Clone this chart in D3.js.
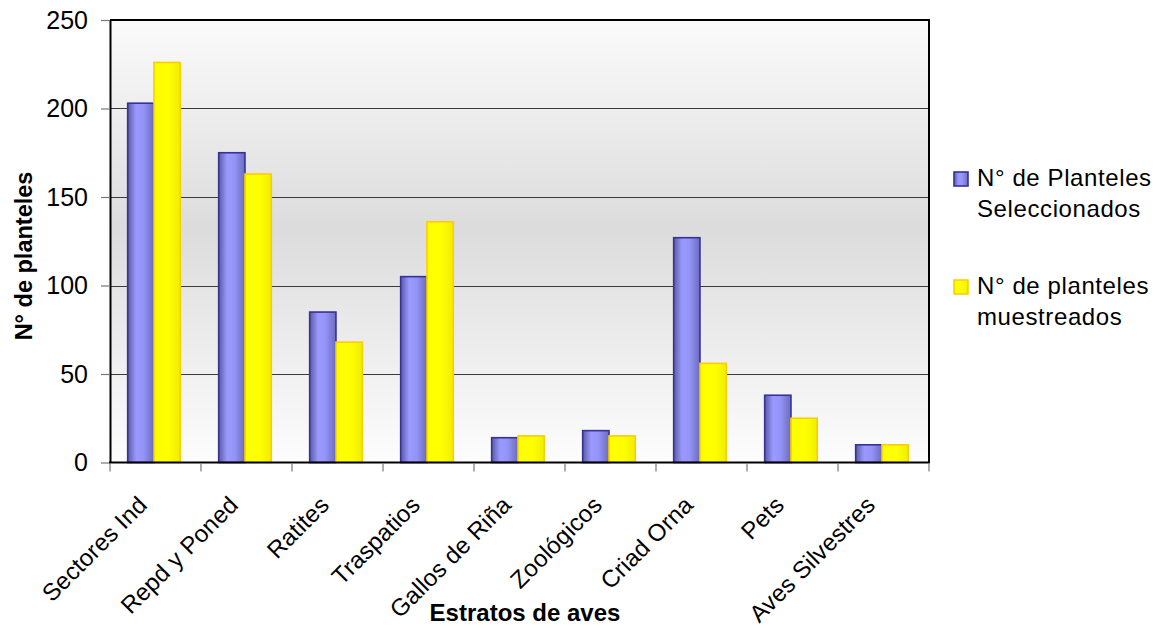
<!DOCTYPE html>
<html>
<head>
<meta charset="utf-8">
<script src="https://cdn.jsdelivr.net/npm/d3@7"></script>
<style>
  html, body { margin: 0; padding: 0; background: #ffffff; }
  svg { display: block; font-family: "Liberation Sans", Arial, sans-serif; }
</style>
</head>
<body>
<svg id="chart" width="1157" height="628"></svg>
<script>
// Bird strata and number of farms per stratum
const categories = ["Sectores Ind", "Repd y Poned", "Ratites", "Traspatios", "Gallos de Riña",
                    "Zoológicos", "Criad Orna", "Pets", "Aves Silvestres"];
const seleccionados = [203, 175, 85, 105, 14, 18, 127, 38, 10];
const muestreados   = [226, 163, 68, 136, 15, 15, 56, 25, 10];
const seriesNames = ["N° de Planteles Seleccionados", "N° de planteles muestreados"];
const legendLines = [["N° de Planteles", "Seleccionados"], ["N° de planteles", "muestreados"]];
const yTicks = [0, 50, 100, 150, 200, 250];

const svg = d3.select("#chart");
const plot = { left: 110, right: 929, top: 20, bottom: 462.5 };

const x0 = d3.scaleBand().domain(categories).range([plot.left, plot.right]).padding(0);
const x1 = d3.scaleBand().domain(seriesNames).range([0, x0.bandwidth()])
  .paddingInner(0).paddingOuter(0.73).align(0.46);
const y = d3.scaleLinear().domain([0, 250]).range([plot.bottom, plot.top]);

const defs = svg.append("defs");

// plot background: light at top and bottom, grey through the middle
const bg = defs.append("linearGradient").attr("id", "bgGrad")
  .attr("x1", 0).attr("y1", 0).attr("x2", 0).attr("y2", 1);
[[0, "#fbfbfb"], [0.47, "#dcdcdc"], [1, "#fdfdfd"]].forEach(([o, c]) =>
  bg.append("stop").attr("offset", o).attr("stop-color", c));

// rounded shading across each bar
const blueGrad = defs.append("linearGradient").attr("id", "blueGrad")
  .attr("x1", 0).attr("y1", 0).attr("x2", 1).attr("y2", 0);
[[0, "#5a5aa2"], [0.32, "#9999ff"], [0.6, "#9494f8"], [1, "#6c6cbc"]].forEach(([o, c]) =>
  blueGrad.append("stop").attr("offset", o).attr("stop-color", c));
const yellowGrad = defs.append("linearGradient").attr("id", "yellowGrad")
  .attr("x1", 0).attr("y1", 0).attr("x2", 1).attr("y2", 0);
[[0, "#ffff00"], [0.55, "#ffff00"], [1, "#eeee00"]].forEach(([o, c]) =>
  yellowGrad.append("stop").attr("offset", o).attr("stop-color", c));

svg.append("rect")
  .attr("x", plot.left).attr("y", plot.top)
  .attr("width", plot.right - plot.left).attr("height", plot.bottom - plot.top)
  .attr("fill", "url(#bgGrad)");

// horizontal gridlines
svg.append("g").selectAll("line")
  .data(yTicks.filter(t => t > 0 && t < 250))
  .join("line")
  .attr("x1", plot.left).attr("x2", plot.right)
  .attr("y1", d => Math.round(y(d)) + 0.5).attr("y2", d => Math.round(y(d)) + 0.5)
  .attr("stroke", "#3a3a3a").attr("stroke-width", 1.2);

// bars
const fills = ["url(#blueGrad)", "url(#yellowGrad)"];
const strokes = ["#333399", "#ffcc00"];
const rows = categories.map((c, i) => ({ cat: c, vals: [seleccionados[i], muestreados[i]] }));
const groups = svg.append("g").selectAll("g")
  .data(rows).join("g")
  .attr("transform", d => `translate(${x0(d.cat)},0)`);
groups.selectAll("rect")
  .data(d => d.vals.map((v, k) => ({ v, k })))
  .join("rect")
  .attr("x", d => x1(seriesNames[d.k]))
  .attr("y", d => y(d.v))
  .attr("width", x1.bandwidth())
  .attr("height", d => y(0) - y(d.v))
  .attr("fill", d => fills[d.k])
  .attr("stroke", d => strokes[d.k])
  .attr("stroke-width", 1.6);

// plot frame on top and right
svg.append("path")
  .attr("d", `M${plot.left},${plot.top}H${plot.right}V${plot.bottom}`)
  .attr("fill", "none").attr("stroke", "#000").attr("stroke-width", 2);

// y axis
const yAxis = svg.append("g")
  .attr("transform", `translate(${plot.left},0)`)
  .call(d3.axisLeft(y).tickValues(yTicks).tickSize(9).tickPadding(13).tickSizeOuter(0));
yAxis.select(".domain").attr("stroke", "#000").attr("stroke-width", 2);
yAxis.selectAll(".tick line").attr("stroke", "#777").attr("stroke-width", 1.2);
yAxis.selectAll(".tick text")
  .attr("font-size", 25).attr("fill", "#000")
  .attr("font-family", "'Liberation Sans', Arial, sans-serif");

// x axis with ticks at category boundaries
const xAxis = svg.append("g").attr("transform", `translate(0,${plot.bottom})`);
xAxis.append("line")
  .attr("x1", plot.left - 1).attr("x2", plot.right + 1)
  .attr("stroke", "#000").attr("stroke-width", 2);
const bounds = categories.map(c => x0(c)).concat([x0(categories[categories.length - 1]) + x0.bandwidth()]);
xAxis.selectAll(".bt").data(bounds).join("line").attr("class", "bt")
  .attr("x1", d => d).attr("x2", d => d).attr("y1", 1).attr("y2", 9)
  .attr("stroke", "#777").attr("stroke-width", 1.2);
xAxis.selectAll(".lbl").data(categories).join("text").attr("class", "lbl")
  .attr("transform", d => `translate(${x0(d) + x0.bandwidth() / 2 - 7},${44}) rotate(-45)`)
  .attr("text-anchor", "end")
  .attr("font-size", 24).attr("letter-spacing", 0.15).attr("fill", "#000")
  .text(d => d);

// axis titles
svg.append("text")
  .attr("x", 525).attr("y", 621)
  .attr("text-anchor", "middle").attr("font-size", 24).attr("font-weight", "bold")
  .text("Estratos de aves");
svg.append("text")
  .attr("transform", "translate(32,256) rotate(-90)")
  .attr("text-anchor", "middle").attr("font-size", 23.5).attr("font-weight", "bold")
  .text("N° de planteles");

// legend
const legend = svg.append("g");
const legendTops = [172, 280];
legendLines.forEach((lines, k) => {
  legend.append("rect")
    .attr("x", 954).attr("y", legendTops[k])
    .attr("width", 14).attr("height", 14)
    .attr("fill", fills[k]).attr("stroke", strokes[k]).attr("stroke-width", 1.6);
  lines.forEach((t, j) => {
    legend.append("text")
      .attr("x", 977).attr("y", legendTops[k] + 14 + j * 30.5)
      .attr("font-size", 24).attr("letter-spacing", 0.6).attr("fill", "#000")
      .text(t);
  });
});
</script>
</body>
</html>
